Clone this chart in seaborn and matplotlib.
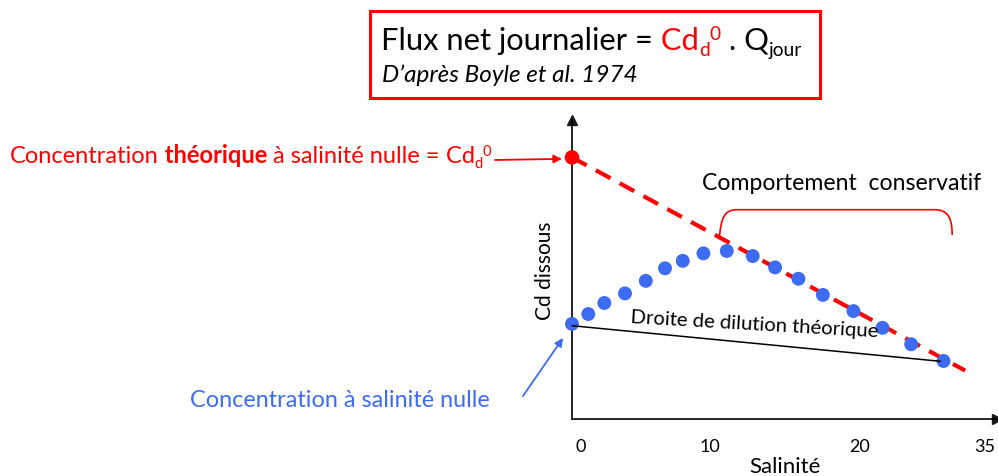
import matplotlib
matplotlib.use("Agg")
import matplotlib.pyplot as plt
from matplotlib.patches import Rectangle, PathPatch
from matplotlib.path import Path
import seaborn as sns
import pandas as pd

# Data (salinity in the drawing's own scale, Cd in arbitrary units)
salinity = [0.0, 1.38, 2.74, 4.49, 6.25, 7.88, 9.38, 11.13, 13.11, 15.31,
            17.20, 19.18, 21.25, 23.84, 26.30, 28.73, 31.47]
cd_dissous = [3.18, 3.51, 3.88, 4.20, 4.62, 5.04, 5.29, 5.54, 5.62, 5.45,
              5.07, 4.69, 4.15, 3.61, 3.05, 2.50, 1.94]
theo_x = [0.0, 33.3]          # conservative mixing line through the sea end
theo_y = [8.75, 1.62]
dilution_x = [0.0, 31.2]      # theoretical dilution line
dilution_y = [3.12, 1.93]
cd0_x = [0.0]
cd0_y = [8.75]
tick_labels = ["0", "10", "20", "35"]

RED = "#FF0000"
BLUE = "#3D6CF2"
W, H = 998, 477

sns.set_theme(style="white")
plt.rcParams["font.family"] = ["Lato", "DejaVu Sans"]

fig = plt.figure(figsize=(W / 100, H / 100), dpi=100)
fig.patch.set_facecolor("white")
renderer = fig.canvas.get_renderer()

# axes placed on the drawing's frame (pixels from top-left)
ax = fig.add_axes([572 / W, (H - 420) / H, (997 - 572) / W, (420 - 121) / H])
ax.set_xlim(0, 36.0)
ax.set_ylim(0, 10)
ax.patch.set_alpha(0)
for side in ["top", "right"]:
    ax.spines[side].set_visible(False)
for side in ["left", "bottom"]:
    ax.spines[side].set_color("black")
    ax.spines[side].set_linewidth(1.2)
ax.plot(1, 0, ">k", ms=7, transform=ax.transAxes, clip_on=False)
ax.plot(0, 1, "^k", ms=7, transform=ax.transAxes, clip_on=False)

ax.set_yticks([])
ax.set_xticks([0.74, 11.69, 24.39, 34.98], tick_labels)
ax.tick_params(axis="x", length=0, pad=14, labelsize=13, colors="black")

ax.set_xlabel("Salinité", fontsize=16, color="black")
ax.xaxis.set_label_coords(0.466, -0.125)
ax.set_ylabel("Cd dissous", fontsize=15, color="black")
ax.yaxis.set_label_coords(-0.04, 0.535)

# lines and points
ax.plot(theo_x, theo_y, color=RED, lw=3, dashes=(4, 2.5), zorder=2, clip_on=False)
df = pd.DataFrame({"Salinité": salinity, "Cd dissous": cd_dissous})
sns.scatterplot(data=df, x="Salinité", y="Cd dissous", ax=ax, color=BLUE,
                s=100, edgecolor="none", zorder=3, clip_on=False)
ax.set_xlabel("Salinité", fontsize=16, color="black")
ax.set_ylabel("Cd dissous", fontsize=15, color="black")
ax.plot(dilution_x, dilution_y, color="black", lw=1.1, zorder=4, clip_on=False)
ax.scatter(cd0_x, cd0_y, color=RED, s=110, edgecolor="none", zorder=5, clip_on=False)

# bracket over the conservative part
x0, x1, yb = 12.5, 32.2, 7.0
verts = [(x0, yb - 0.87), (x0 + 0.15, yb - 0.3), (x0 + 0.35, yb), (x0 + 1.5, yb),
         (x1 - 1.5, yb), (x1 - 0.3, yb), (x1, yb - 0.3), (x1, yb - 0.85)]
codes = [Path.MOVETO, Path.CURVE4, Path.CURVE4, Path.CURVE4,
         Path.LINETO, Path.CURVE4, Path.CURVE4, Path.CURVE4]
ax.add_patch(PathPatch(Path(verts, codes), fill=False, ec=RED, lw=1.2, clip_on=False))


def draw_runs(x, y, runs, width=None):
    """Write pieces of text one after another on a baseline (pixels from top-left)."""
    scale = 1.0
    for attempt in range(2):
        arts = []
        cx = x
        for txt, size, color, weight, style, dy in runs:
            t = fig.text(cx / W, 1 - (y + dy * scale) / H, txt, fontsize=size * scale,
                         color=color, fontweight=weight, fontstyle=style,
                         ha="left", va="baseline")
            cx = t.get_window_extent(renderer).x1
            arts.append(t)
        if width is None or attempt == 1:
            break
        for t in arts:
            t.remove()
        scale = width / (cx - x)


# title box
fig.add_artist(Rectangle((370 / W, 1 - 99 / H), 450 / W, 87 / H, transform=fig.transFigure,
                         fill=False, ec=RED, lw=2.2))
draw_runs(381, 50, [("Flux net journalier =", 21, "black", "normal", "normal", 0),
                    (" Cd", 21, RED, "normal", "normal", 0),
                    ("d", 13, RED, "normal", "normal", 6),
                    ("0", 13, RED, "normal", "normal", -9),
                    (" . Q", 21, "black", "normal", "normal", 0),
                    ("jour", 13, "black", "normal", "normal", 6)], width=420)
draw_runs(382, 82, [("D’après Boyle et al. 1974", 16, "black", "normal", "italic", 0)], width=256)

# left annotations
draw_runs(10, 163, [("Concentration", 16, RED, "normal", "normal", 0),
                    (" théorique", 16, RED, "bold", "normal", 0),
                    (" à salinité nulle =", 16, RED, "normal", "normal", 0),
                    (" Cd", 16, RED, "normal", "normal", 0),
                    ("d", 10, RED, "normal", "normal", 5),
                    ("0", 10, RED, "normal", "normal", -7)], width=483)
draw_runs(190, 407, [("Concentration à salinité nulle", 16, BLUE, "normal", "normal", 0)],
          width=302)
draw_runs(702, 190, [("Comportement  conservatif", 16, "black", "normal", "normal", 0)],
          width=280)

ax.annotate("", xy=(-0.85, 8.70), xycoords="data", xytext=(495, H - 161),
            textcoords="figure pixels", annotation_clip=False,
            arrowprops=dict(arrowstyle="-|>", color=RED, lw=1.3, mutation_scale=12,
                            shrinkA=0, shrinkB=0))
ax.annotate("", xy=(-0.76, 2.71), xycoords="data", xytext=(523, H - 397),
            textcoords="figure pixels", annotation_clip=False,
            arrowprops=dict(arrowstyle="-|>", color=BLUE, lw=1.3, mutation_scale=12,
                            shrinkA=0, shrinkB=0))

# rotated label along the dilution line
t = fig.text(630 / W, 1 - 323 / H, "Droite de dilution théorique", fontsize=15,
             color="black", ha="left", va="baseline")
w = t.get_window_extent(renderer).width
t.set_fontsize(15 * 248 / w)
t.set_rotation(-3.3)
t.set_rotation_mode("anchor")
t.set_zorder(6)

fig.savefig("out.png", dpi=100)
